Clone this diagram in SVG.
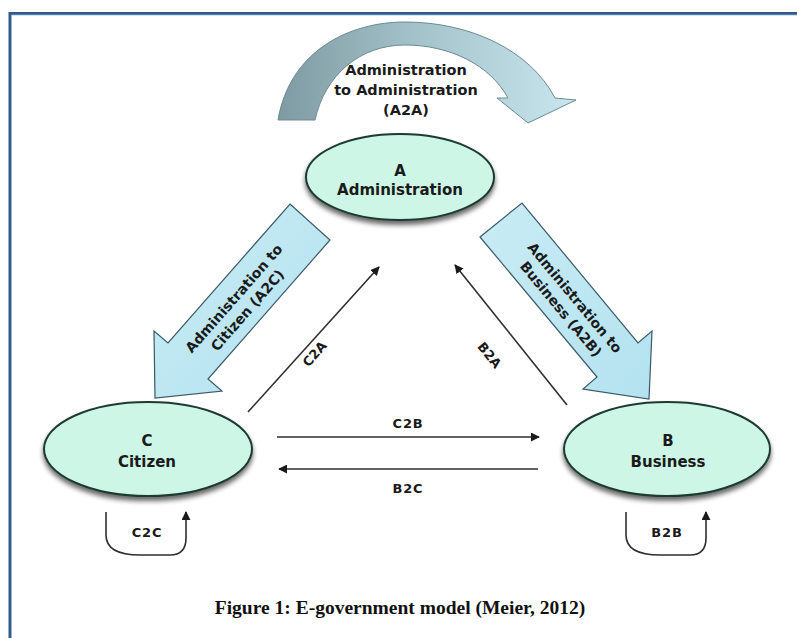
<svg xmlns="http://www.w3.org/2000/svg" width="797" height="638" viewBox="0 0 797 638">
<defs>
<style>
.lbl{font-family:"DejaVu Sans","Liberation Sans",sans-serif;font-weight:bold;fill:#1a1a1a;text-anchor:middle}
.node{fill:#cdf6e6;stroke:#1f3a33;stroke-width:2}
.big{fill:url(#blk);stroke:#3a5a66;stroke-width:1.2}
.con{fill:none;stroke:#2e2e2e;stroke-width:1.6}
</style>
<linearGradient id="arc" x1="278" y1="0" x2="575" y2="0" gradientUnits="userSpaceOnUse">
<stop offset="0" stop-color="#7e9aa2"/>
<stop offset="0.45" stop-color="#a3c1c8"/>
<stop offset="1" stop-color="#c8e6ee"/>
</linearGradient>
<linearGradient id="blk" x1="0" y1="0" x2="1" y2="1">
<stop offset="0" stop-color="#c9ecf5"/>
<stop offset="1" stop-color="#b3e2ef"/>
</linearGradient>
<filter id="sh" x="-20%" y="-20%" width="140%" height="150%">
<feGaussianBlur in="SourceAlpha" stdDeviation="2.5"/>
<feOffset dx="0" dy="4" result="b"/>
<feComponentTransfer><feFuncA type="linear" slope="0.6"/></feComponentTransfer>
<feMerge><feMergeNode/><feMergeNode in="SourceGraphic"/></feMerge>
</filter>
<marker id="ah" viewBox="0 0 10 10" refX="9" refY="5" markerWidth="7" markerHeight="7" markerUnits="userSpaceOnUse" orient="auto">
<path d="M0,0 L10,5 L0,10 z" fill="#1a1a1a"/>
</marker>
<marker id="ah2" viewBox="0 0 10 10" refX="9" refY="5" markerWidth="9" markerHeight="9" markerUnits="userSpaceOnUse" orient="auto">
<path d="M0,0 L10,5 L0,10 z" fill="#1a1a1a"/>
</marker>
</defs>
<rect width="797" height="638" fill="#ffffff"/>
<g id="frame">
<path d="M10,638 V13.5 H797" fill="none" stroke="#2f5a8c" stroke-width="3"/>
<path d="M11.5,638 V15 H797" fill="none" stroke="#9bb5d6" stroke-width="0.8"/>
</g>
<g id="connectors">
<path class="con" d="M248,412 L379,267" marker-end="url(#ah2)"/>
<path class="con" d="M567,405 L455,265" marker-end="url(#ah2)"/>
<path class="con" d="M277,437 L539,437" marker-end="url(#ah2)"/>
<path class="con" d="M538,469 L279,469" marker-end="url(#ah2)"/>
<path class="con" d="M106,512 L106,535 Q106,555 140,555 L170,555 Q186,555 186,538 L186,512" marker-end="url(#ah2)"/>
<path class="con" d="M626,512 L626,535 Q626,555 660,555 L690,555 Q706,555 706,538 L706,512" marker-end="url(#ah2)"/>
<text class="lbl" font-size="13" transform="translate(318,357) rotate(-48)">C2A</text>
<text class="lbl" font-size="13" transform="translate(486,358) rotate(51)">B2A</text>
<text class="lbl" font-size="13" x="408" y="428" letter-spacing="0.8">C2B</text>
<text class="lbl" font-size="13" x="408" y="493" letter-spacing="0.8">B2C</text>
<text class="lbl" font-size="13" x="147" y="537" letter-spacing="0.8">C2C</text>
<text class="lbl" font-size="13" x="667" y="537" letter-spacing="0.8">B2B</text>
</g>
<g id="a2a">
<path d="M278,120 C290,50 350,22 405,22 C470,22 530,50 555,98 L576,100 L528,123 L497,98 L508,98 C490,65 450,45 405,45 C360,45 325,75 315,120 Z" fill="url(#arc)" stroke="#6c8a92" stroke-width="1"/>
<text class="lbl" font-size="14.5" x="406" y="75">Administration</text>
<text class="lbl" font-size="14.5" x="406" y="95">to Administration</text>
<text class="lbl" font-size="14.5" x="406" y="115">(A2A)</text>
</g>
<g id="a2c">
<path class="big" d="M290,204 L330,240 L208,379 L222,391 L155,398 L154,331 L168,343 Z"/>
<g transform="translate(239,303) rotate(-48.7)">
<text class="lbl" font-size="14" x="0" y="-2">Administration to</text>
<text class="lbl" font-size="14" x="0" y="16">Citizen (A2C)</text>
</g>
</g>
<g id="a2b">
<path class="big" d="M480,237 L522,203 L638,343 L652,331 L649,399 L583,389 L597,377 Z"/>
<g transform="translate(569.5,302) rotate(50.3)">
<text class="lbl" font-size="14" x="0" y="-2">Administration to</text>
<text class="lbl" font-size="14" x="0" y="16">Business (A2B)</text>
</g>
</g>
<g id="nodeA">
<ellipse class="node" cx="400" cy="177" rx="94" ry="43" filter="url(#sh)"/>
<text class="lbl" font-size="15" x="400" y="176">A</text>
<text class="lbl" font-size="15" x="400" y="195">Administration</text>
</g>
<g id="nodeC">
<ellipse class="node" cx="148" cy="449" rx="104" ry="47" filter="url(#sh)"/>
<text class="lbl" font-size="15" x="147" y="446">C</text>
<text class="lbl" font-size="15" x="147" y="467">Citizen</text>
</g>
<g id="nodeB">
<ellipse class="node" cx="667" cy="449" rx="103" ry="47" filter="url(#sh)"/>
<text class="lbl" font-size="15" x="668" y="446">B</text>
<text class="lbl" font-size="15" x="668" y="467">Business</text>
</g>
<text x="400" y="614" text-anchor="middle" font-family="Liberation Serif, serif" font-weight="bold" font-size="19.5" fill="#111">Figure 1: E-government model (Meier, 2012)</text>
</svg>
